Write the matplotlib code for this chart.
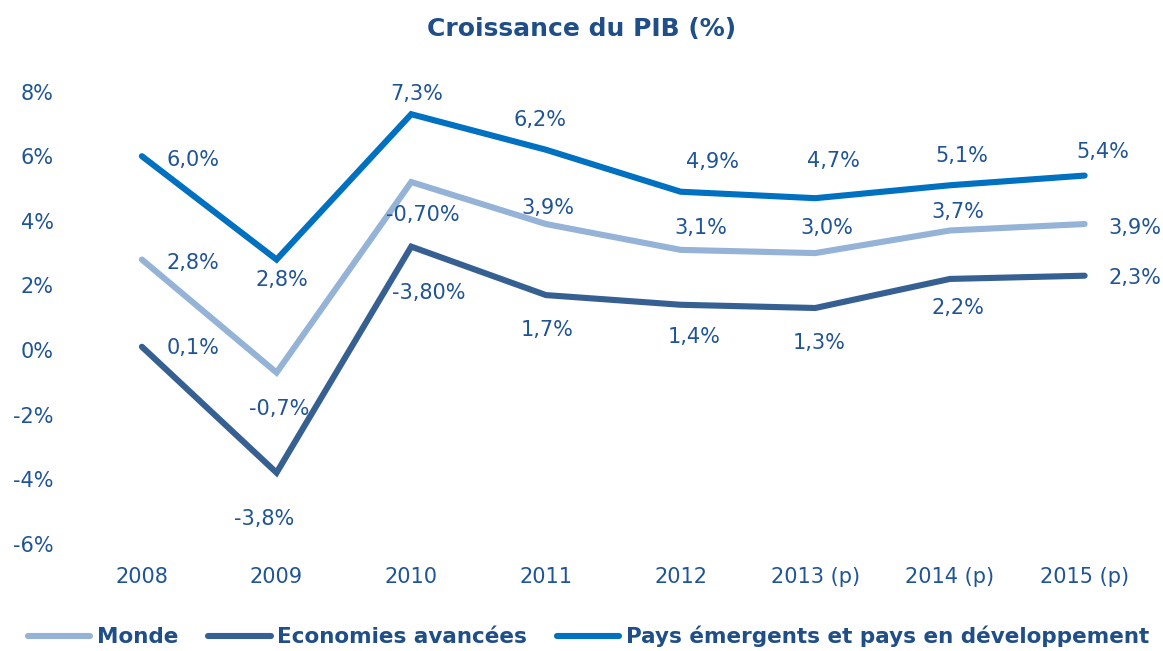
import matplotlib
matplotlib.use("Agg")
import matplotlib.pyplot as plt

# ─── data ───────────────────────────────────────────────────────────
years = ["2008", "2009", "2010", "2011", "2012", "2013 (p)", "2014 (p)", "2015 (p)"]

monde = [2.8, -0.7, 5.2, 3.9, 3.1, 3.0, 3.7, 3.9]
avancees = [0.1, -3.8, 3.2, 1.7, 1.4, 1.3, 2.2, 2.3]
emergents = [6.0, 2.8, 7.3, 6.2, 4.9, 4.7, 5.1, 5.4]

# data labels as printed on the original (2010 labels are the source's own)
monde_lbl = ["2,8%", "-0,7%", "-0,70%", "3,9%", "3,1%", "3,0%", "3,7%", "3,9%"]
avancees_lbl = ["0,1%", "-3,8%", "-3,80%", "1,7%", "1,4%", "1,3%", "2,2%", "2,3%"]
emergents_lbl = ["6,0%", "2,8%", "7,3%", "6,2%", "4,9%", "4,7%", "5,1%", "5,4%"]

y_ticks = [-6, -4, -2, 0, 2, 4, 6, 8]

# ─── style ──────────────────────────────────────────────────────────
CLR_MONDE = "#95B3D7"
CLR_AVANCEES = "#376092"
CLR_EMERGENTS = "#0070C0"
CLR_TEXT = "#1F5496"
CLR_TITLE = "#1F4E89"
FONT = "DejaVu Sans"

# label offsets in pixels (dx right, dy down), hand-placed like the source
OFF_MONDE = [(51, 3), (3, 36), (12, 33), (2, -16), (20, -22), (12, -25), (8, -18), (50, 4)]
OFF_AVANCEES = [(51, 1), (-12, 46), (18, 46), (1, 35), (14, 32), (4, 35), (8, 29), (50, 2)]
OFF_EMERGENTS = [(51, 4), (5, 20), (5, -20), (-6, -30), (32, -30), (18, -37), (12, -29), (18, -24)]

fig = plt.figure(figsize=(11.63, 6.51), dpi=100)
ax = fig.add_axes([0.0641, 0.1647, 0.9264, 0.6946])

x = list(range(len(years)))
series = [
    ("Monde", monde, monde_lbl, OFF_MONDE, CLR_MONDE),
    ("Economies avancées", avancees, avancees_lbl, OFF_AVANCEES, CLR_AVANCEES),
    ("Pays émergents et pays en développement", emergents, emergents_lbl, OFF_EMERGENTS, CLR_EMERGENTS),
]

for name, vals, lbls, offs, clr in series:
    ax.plot(x, vals, color=clr, linewidth=4.4, solid_capstyle="round",
            solid_joinstyle="miter", label=name)
    for xi, v, s, (dx, dy) in zip(x, vals, lbls, offs):
        ax.annotate(s, (xi, v), xytext=(dx, -dy), textcoords="offset pixels",
                    ha="center", va="center", fontsize=15, color=CLR_TEXT,
                    family=FONT)

ax.set_xlim(-0.5, len(years) - 0.5)
ax.set_ylim(-6, 8)
ax.set_xticks(x)
ax.set_xticklabels(years)
ax.set_yticks(y_ticks)
ax.set_yticklabels([f"{t}%" for t in y_ticks])
ax.tick_params(axis="both", length=0, labelsize=15, labelcolor=CLR_TEXT)
ax.tick_params(axis="y", pad=15)
ax.tick_params(axis="x", pad=17)
for lab in ax.get_xticklabels() + ax.get_yticklabels():
    lab.set_family(FONT)
for sp in ax.spines.values():
    sp.set_visible(False)

fig.text(0.5, 0.955, "Croissance du PIB (%)", ha="center", va="center",
         fontsize=18, fontweight="bold", color=CLR_TITLE, family=FONT)

leg = fig.legend(loc="center", bbox_to_anchor=(0.506, 0.022), ncol=3,
                 frameon=False, handlelength=2.9, handletextpad=0.3,
                 columnspacing=1.4,
                 prop={"family": FONT, "weight": "bold", "size": 15.5})
for t in leg.get_texts():
    t.set_color(CLR_TITLE)
for h in leg.get_lines():
    h.set_linewidth(4.4)
    h.set_solid_capstyle("round")

fig.savefig("out.png", dpi=100, facecolor="white")
